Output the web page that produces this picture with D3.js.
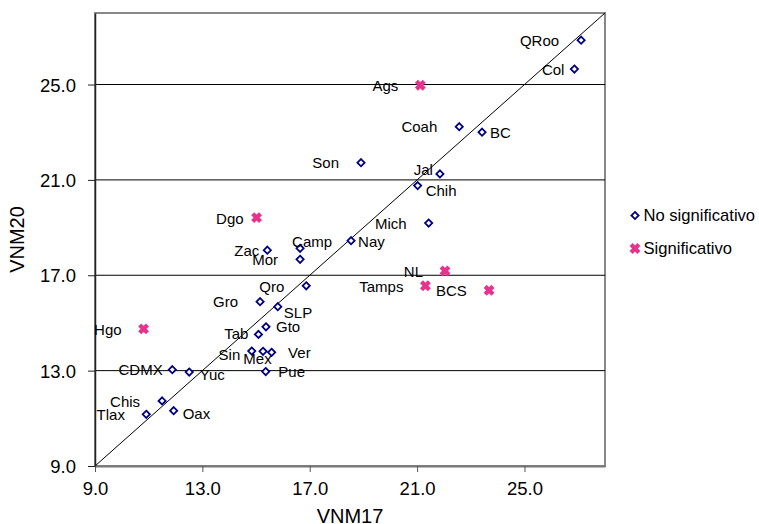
<!DOCTYPE html>
<html>
<head>
<meta charset="utf-8">
<script src="https://cdn.jsdelivr.net/npm/d3@7"></script>
<style>
  html, body { margin: 0; padding: 0; background: #fff; }
  svg { display: block; font-family: Arial, "Liberation Sans", sans-serif; }
</style>
</head>
<body>
<svg id="chart" width="759" height="524"></svg>
<script>
// ---- data ----
const states = ["QRoo","Col","Ags","Coah","BC","Son","Jal","Chih","Mich","Nay","NL","Tamps","BCS","Dgo","Zac","Camp","Mor","Qro","Gro","SLP","Hgo","Gto","Tab","Sin","Mex","Ver","CDMX","Yuc","Pue","Chis","Oax","Tlax"];
const vnm17 = [27.11,26.86,21.12,22.57,23.42,18.91,21.85,21.02,21.43,18.54,22.04,21.31,23.68,15.02,15.42,16.64,16.64,16.87,15.15,15.81,10.81,15.37,15.09,14.84,15.26,15.58,11.88,12.51,15.36,11.50,11.93,10.91];
const vnm20 = [26.86,25.65,24.97,23.23,23.00,21.72,21.25,20.76,19.19,18.45,17.18,16.56,16.37,19.42,18.05,18.13,17.67,16.56,15.89,15.68,14.75,14.84,14.52,13.82,13.81,13.77,13.04,12.94,12.96,11.73,11.32,11.17];
const significant = [0,0,1,0,0,0,0,0,0,0,1,1,1,1,0,0,0,0,0,0,1,0,0,0,0,0,0,0,0,0,0,0];
const seriesNames = ["No significativo", "Significativo"];
const tickValues = [9, 13, 17, 21, 25];
const gridValues = [13, 17, 21, 25];
const xTitle = "VNM17";
const yTitle = "VNM20";

// label placement (styling): [anchor, dx, dy]
const defaultLabel = ["end", -22, 0.5];
const labelPlacement = {
  QRoo: ["end", -22, 1],
  Col: ["end", -10, 0.3],
  BC: ["start", 8, 0.4],
  Jal: ["end", -7, -4],
  Chih: ["start", 8, 5.5],
  Nay: ["start", 7, 0.6],
  Dgo: ["end", -13, 1.5],
  Zac: ["end", -8, 0.6],
  Camp: ["start", -8, -6.6],
  Tab: ["end", -10, -1],
  Gto: ["start", 10, 0],
  SLP: ["start", 6, 6],
  Sin: ["end", -11.5, 4],
  Mex: ["middle", -5.5, 7],
  Ver: ["start", 16.5, 0.4],
  CDMX: ["end", -9.6, 0.3],
  Yuc: ["start", 10.5, 3],
  Pue: ["start", 12.6, 0],
  Oax: ["start", 9, 3.3],
  Tlax: ["end", -21.3, 0.7],
  BCS: ["end", -22.3, 0.7]
};

const points = states.map((s, i) => ({name: s, x: vnm17[i], y: vnm20[i], sig: significant[i]}));

// ---- layout ----
const svg = d3.select("#chart");
const x = d3.scaleLinear().domain([9, 28]).range([95, 605]);
const y = d3.scaleLinear().domain([9, 28]).range([466, 13]);
const navy = "#000080";
const pink = "#E8338E";

// frame
svg.append("rect")
  .attr("x", x(9)).attr("y", y(28))
  .attr("width", x(28) - x(9)).attr("height", y(9) - y(28))
  .attr("fill", "#fff").attr("stroke", "#888").attr("stroke-width", 2);

// gridlines
svg.append("g").selectAll("line").data(gridValues).join("line")
  .attr("x1", x(9)).attr("x2", x(28))
  .attr("y1", d => y(d)).attr("y2", d => y(d))
  .attr("stroke", "#000").attr("stroke-width", 1);

// diagonal
svg.append("line")
  .attr("x1", x(9)).attr("y1", y(9)).attr("x2", x(28)).attr("y2", y(28))
  .attr("stroke", "#000").attr("stroke-width", 1);

// axes
const fmt = d3.format(".1f");
const xAxis = svg.append("g").attr("transform", `translate(0,${y(9)})`)
  .call(d3.axisBottom(x).tickValues(tickValues).tickFormat(fmt).tickSize(6).tickSizeOuter(0));
xAxis.select(".domain").attr("stroke", "#777").attr("stroke-width", 2);
xAxis.selectAll(".tick line").attr("stroke", "#555");
xAxis.selectAll("text").attr("y", 23).attr("dy", "0.35em")
  .attr("font-size", 18.5).attr("fill", "#000").attr("font-family", "Arial, 'Liberation Sans', sans-serif");

const yAxis = svg.append("g").attr("transform", `translate(${x(9)},0)`)
  .call(d3.axisLeft(y).tickValues(tickValues).tickFormat(fmt).tickSize(7).tickSizeOuter(0));
yAxis.select(".domain").attr("stroke", "#222").attr("stroke-width", 1.5);
yAxis.selectAll(".tick line").attr("stroke", "#222");
yAxis.selectAll("text").attr("x", -19).attr("dy", "0.35em")
  .attr("font-size", 18.5).attr("fill", "#000").attr("font-family", "Arial, 'Liberation Sans', sans-serif");

// axis titles
svg.append("text").attr("x", (x(9) + x(28)) / 2).attr("y", 523)
  .attr("text-anchor", "middle").attr("font-size", 20).attr("fill", "#000").text(xTitle);
svg.append("text").attr("transform", `translate(24,${(y(9) + y(28)) / 2}) rotate(-90)`)
  .attr("text-anchor", "middle").attr("font-size", 20).attr("fill", "#000").text(yTitle);

// markers
const diamond = "M0,-3.6L3.6,0L0,3.6L-3.6,0Z";
const cross = "M-3.9,-3.9L3.9,3.9M-3.9,3.9L3.9,-3.9";

function drawMarker(sel, sig) {
  if (sig) {
    sel.append("path").attr("d", cross).attr("stroke", pink).attr("stroke-width", 4.3)
      .attr("fill", "none");
  } else {
    sel.append("path").attr("d", diamond).attr("stroke", navy).attr("stroke-width", 1.8)
      .attr("fill", "#fff");
  }
}

const pg = svg.append("g").selectAll("g").data(points).join("g")
  .attr("transform", d => `translate(${x(d.x)},${y(d.y)})`);
pg.each(function(d) { drawMarker(d3.select(this), d.sig); });

// labels
svg.append("g").selectAll("text").data(points).join("text")
  .attr("x", d => x(d.x) + (labelPlacement[d.name] || defaultLabel)[1])
  .attr("y", d => y(d.y) + (labelPlacement[d.name] || defaultLabel)[2])
  .attr("dy", "0.35em")
  .attr("text-anchor", d => (labelPlacement[d.name] || defaultLabel)[0])
  .attr("font-size", 15).attr("fill", "#000")
  .text(d => d.name);

// legend
const legend = svg.append("g");
seriesNames.forEach((name, i) => {
  const ly = 215.5 + i * 33;
  const g = legend.append("g").attr("transform", `translate(635,${ly})`);
  drawMarker(g, i === 1);
  legend.append("text").attr("x", 643.5).attr("y", ly).attr("dy", "0.35em")
    .attr("font-size", 16.6).attr("fill", "#000").text(name);
});
</script>
</body>
</html>
